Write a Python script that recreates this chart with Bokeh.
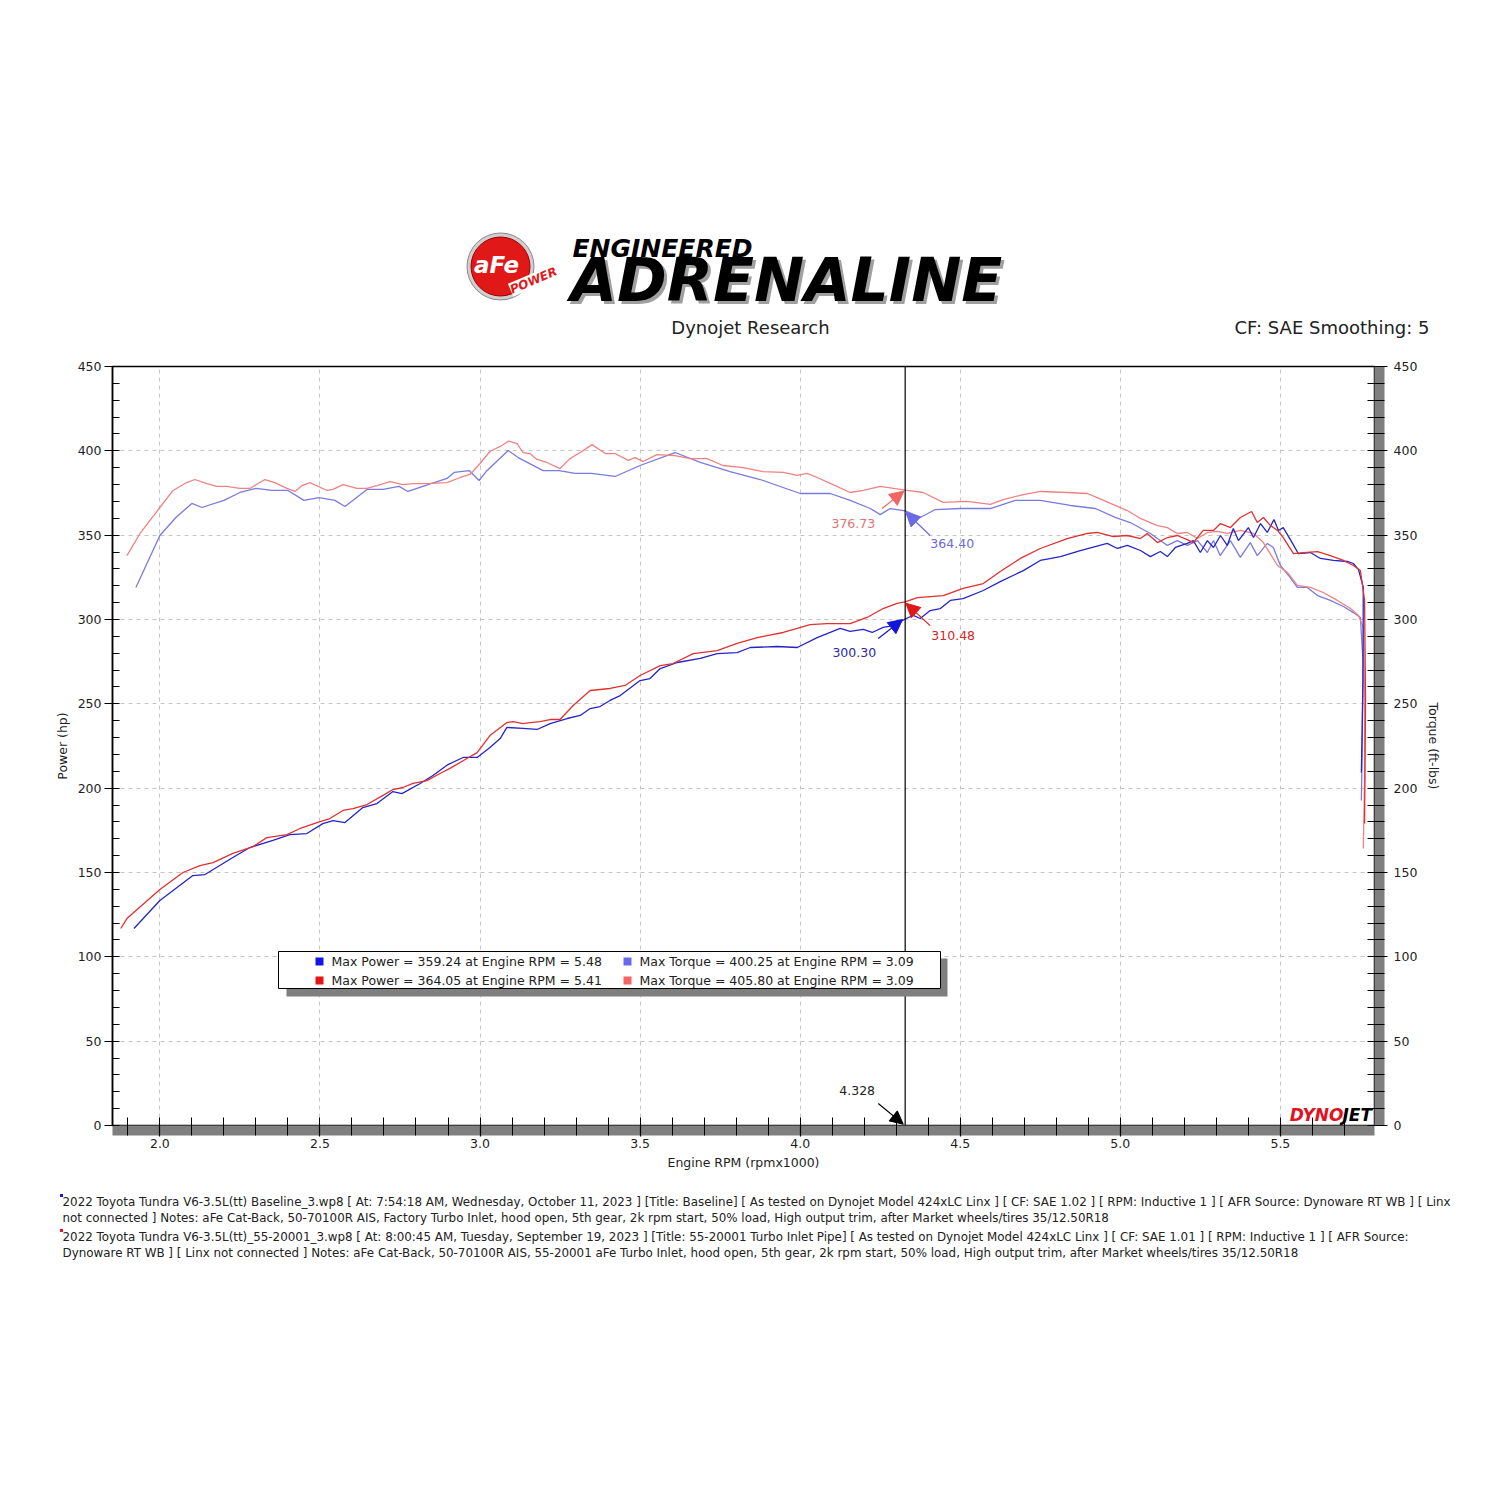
import numpy as np
from bokeh.plotting import figure
from bokeh.layouts import column
from bokeh.models import (Range1d, LinearAxis, SingleIntervalTicker, PrintfTickFormatter, FixedTicker,
                          Span, Label, Arrow, NormalHead, BoxAnnotation)
from bokeh.embed import file_html
from bokeh.resources import INLINE

FONT = "DejaVu Sans"

# ---------------- data ----------------
# Baseline run: torque (ft-lbs) vs engine rpm (x1000)
rpm_tq_base = [1.925, 2.000, 2.050, 2.100, 2.131, 2.200, 2.250, 2.300, 2.350, 2.400, 2.450, 2.497, 2.547,
               2.578, 2.647, 2.697, 2.747, 2.775, 2.847, 2.897, 2.919, 2.966, 2.997, 3.019, 3.088, 3.119,
               3.197, 3.247, 3.297, 3.347, 3.422, 3.500, 3.609, 3.688, 3.781, 3.875, 4.000, 4.094, 4.156,
               4.219, 4.250, 4.281, 4.328, 4.375, 4.422, 4.500, 4.594, 4.672, 4.750, 4.844, 4.922, 4.984,
               5.031, 5.094, 5.147, 5.178, 5.209, 5.241, 5.272, 5.291, 5.312, 5.344, 5.375, 5.406, 5.428,
               5.459, 5.478, 5.500, 5.531, 5.553, 5.584, 5.616, 5.656, 5.697, 5.728, 5.750, 5.758, 5.756,
               5.753]
tq_base = [319.0, 349.8, 360.5, 368.8, 366.4, 370.6, 375.3, 377.7, 376.5, 376.5, 370.6, 372.3, 370.6,
           367.0, 377.1, 377.1, 378.9, 375.9, 380.6, 383.6, 387.2, 388.3, 382.4, 387.7, 400.25, 396.0,
           388.3, 388.3, 386.6, 386.6, 384.8, 391.3, 399.0, 393.1, 387.7, 383.0, 374.7, 374.7, 370.6,
           365.8, 362.2, 365.8, 364.40, 360.5, 365.2, 365.8, 365.8, 370.6, 370.6, 367.6, 365.8, 360.5,
           357.5, 351.0, 343.9, 346.8, 343.9, 346.8, 339.7, 346.8, 337.9, 346.8, 336.8, 345.6, 337.9,
           345.1, 342.7, 332.0, 324.9, 319.0, 319.0, 314.2, 311.3, 307.7, 304.1, 301.2, 275.7, 228.3,
           192.7]

# Baseline run: power (hp)
rpm_hp_base = [1.919, 2.000, 2.103, 2.141, 2.228, 2.281, 2.353, 2.406, 2.459, 2.509, 2.541, 2.578, 2.634,
               2.678, 2.728, 2.756, 2.813, 2.853, 2.900, 2.947, 2.991, 3.031, 3.063, 3.084, 3.134, 3.178,
               3.219, 3.272, 3.313, 3.344, 3.375, 3.406, 3.438, 3.500, 3.531, 3.563, 3.616, 3.688, 3.741,
               3.803, 3.844, 3.928, 3.991, 4.053, 4.125, 4.156, 4.197, 4.225, 4.259, 4.291, 4.328, 4.353,
               4.375, 4.406, 4.438, 4.469, 4.509, 4.572, 4.625, 4.697, 4.750, 4.813, 4.875, 4.959, 4.991,
               5.022, 5.063, 5.094, 5.125, 5.147, 5.172, 5.209, 5.228, 5.250, 5.272, 5.291, 5.313, 5.334,
               5.353, 5.369, 5.400, 5.416, 5.438, 5.459, 5.480, 5.494, 5.509, 5.538, 5.556, 5.594, 5.625,
               5.666, 5.709, 5.728, 5.744, 5.759, 5.758, 5.753]
hp_base = [116.8, 133.4, 148.2, 148.8, 158.9, 164.8, 169.0, 172.5, 173.1, 179.0, 180.8, 179.6, 188.5,
           190.9, 198.0, 196.8, 202.8, 207.5, 214.0, 218.2, 218.2, 224.1, 229.4, 236.0, 235.4, 234.8,
           238.3, 241.3, 243.1, 247.2, 248.4, 252.0, 254.9, 263.8, 265.0, 270.9, 274.5, 276.9, 279.8,
           280.4, 283.4, 284.0, 283.4, 289.3, 294.7, 292.9, 294.1, 292.3, 295.3, 296.4, 300.30, 302.4,
           300.6, 305.3, 306.5, 311.3, 312.4, 317.2, 322.5, 329.0, 335.0, 337.3, 340.9, 345.1, 342.1,
           343.9, 340.9, 337.3, 340.3, 337.3, 342.7, 345.1, 346.8, 339.7, 346.8, 342.7, 349.8, 343.9,
           353.9, 346.8, 354.5, 348.6, 356.9, 351.6, 359.24, 352.8, 354.5, 345.1, 339.1, 339.7, 336.2,
           335.0, 334.4, 333.2, 329.6, 319.0, 263.8, 209.3]

# 55-20001 run: power (hp)
rpm_hp_mod = [1.878, 1.897, 2.000, 2.072, 2.125, 2.166, 2.228, 2.291, 2.334, 2.397, 2.438, 2.491, 2.531,
              2.572, 2.603, 2.647, 2.697, 2.728, 2.759, 2.791, 2.834, 2.875, 2.906, 2.959, 2.991, 3.031,
              3.084, 3.103, 3.134, 3.156, 3.188, 3.219, 3.250, 3.291, 3.344, 3.375, 3.406, 3.453, 3.500,
              3.563, 3.603, 3.666, 3.741, 3.803, 3.866, 3.947, 4.031, 4.084, 4.156, 4.209, 4.259, 4.303,
              4.328, 4.366, 4.447, 4.509, 4.572, 4.625, 4.688, 4.750, 4.834, 4.897, 4.928, 4.978, 5.022,
              5.063, 5.084, 5.116, 5.147, 5.178, 5.209, 5.228, 5.259, 5.291, 5.313, 5.344, 5.375, 5.410,
              5.428, 5.447, 5.469, 5.491, 5.509, 5.541, 5.572, 5.616, 5.656, 5.697, 5.728, 5.750, 5.763,
              5.766, 5.763]
hp_mod = [116.8, 122.7, 139.9, 150.0, 154.1, 155.9, 161.3, 165.4, 170.7, 172.5, 176.1, 179.6, 182.0,
          186.8, 187.9, 190.3, 195.7, 199.2, 200.4, 202.8, 204.5, 208.7, 211.7, 217.6, 221.1, 231.2,
          238.9, 239.5, 238.3, 238.9, 239.5, 240.7, 240.7, 249.0, 257.9, 258.5, 259.1, 260.9, 266.8,
          272.7, 273.9, 279.8, 281.6, 285.8, 289.3, 292.3, 297.0, 297.6, 297.6, 301.2, 306.5, 309.5,
          310.48, 313.0, 314.2, 318.4, 321.3, 328.5, 336.2, 342.1, 348.0, 351.0, 351.6, 349.2, 349.8,
          348.0, 351.0, 345.6, 348.6, 349.8, 347.4, 345.6, 352.8, 352.8, 356.9, 354.5, 360.5, 364.05,
          357.5, 360.5, 355.7, 352.8, 348.6, 339.1, 339.7, 340.3, 337.9, 335.0, 332.0, 329.0, 311.3,
          252.0, 179.1]

# 55-20001 run: torque (ft-lbs)
rpm_tq_mod = [1.897, 1.938, 2.000, 2.041, 2.084, 2.109, 2.147, 2.178, 2.209, 2.250, 2.281, 2.328, 2.359,
              2.397, 2.422, 2.444, 2.469, 2.522, 2.541, 2.572, 2.616, 2.647, 2.678, 2.719, 2.759, 2.791,
              2.834, 2.897, 2.938, 2.969, 3.000, 3.031, 3.063, 3.090, 3.116, 3.134, 3.156, 3.178, 3.209,
              3.250, 3.281, 3.313, 3.350, 3.391, 3.422, 3.463, 3.484, 3.509, 3.553, 3.609, 3.656, 3.709,
              3.759, 3.822, 3.884, 3.947, 3.991, 4.022, 4.053, 4.103, 4.156, 4.197, 4.250, 4.328, 4.384,
              4.447, 4.522, 4.594, 4.634, 4.697, 4.750, 4.834, 4.897, 4.928, 4.969, 5.022, 5.063, 5.116,
              5.147, 5.178, 5.209, 5.241, 5.272, 5.303, 5.334, 5.375, 5.416, 5.447, 5.491, 5.522, 5.553,
              5.594, 5.634, 5.678, 5.719, 5.744, 5.759, 5.763, 5.763, 5.759]
tq_mod = [337.9, 351.0, 366.4, 376.5, 381.2, 383.0, 380.6, 378.9, 378.9, 377.7, 377.7, 383.0, 381.2,
          377.7, 375.9, 379.4, 381.2, 376.5, 377.1, 380.0, 377.7, 377.7, 379.4, 381.8, 380.0, 380.6,
          380.6, 381.2, 384.2, 386.0, 392.5, 399.6, 402.6, 405.80, 404.3, 399.0, 398.4, 394.9, 393.1,
          389.5, 395.4, 399.0, 403.7, 398.4, 398.4, 394.3, 396.0, 393.7, 397.8, 397.2, 395.4, 395.4,
          391.3, 390.1, 387.7, 387.2, 385.4, 386.6, 384.2, 380.0, 375.3, 376.5, 378.9, 376.73, 375.3,
          369.4, 370.0, 368.2, 371.1, 374.1, 375.9, 375.3, 374.7, 372.3, 368.8, 364.6, 359.9, 355.7,
          354.5, 351.0, 351.6, 348.0, 351.6, 352.2, 351.0, 352.8, 351.0, 345.6, 332.0, 327.9, 320.2,
          319.0, 316.0, 311.3, 306.5, 302.4, 295.3, 252.0, 204.5, 164.2]

# summary values
max_power = [359.24, 364.05]
max_power_rpm = [5.48, 5.41]
max_torque = [400.25, 405.80]
max_torque_rpm = [3.09, 3.09]
cursor_rpm = 4.328
cursor_tq_mod = 376.73
cursor_tq_base = 364.40
cursor_hp_mod = 310.48
cursor_hp_base = 300.30

x_ticks_interval = 0.5
y_ticks_interval = 50

C_HP_BASE = "#2424c8"
C_TQ_BASE = "#7a7ae0"
C_HP_MOD = "#e03030"
C_TQ_MOD = "#f08282"

footnotes = [
    "2022 Toyota Tundra V6-3.5L(tt) Baseline_3.wp8 [ At: 7:54:18 AM, Wednesday, October 11, 2023 ] [Title: Baseline]  [ As tested on Dynojet Model 424xLC Linx ] [ CF: SAE 1.02 ] [ RPM: Inductive 1 ] [ AFR Source: Dynoware RT WB ] [ Linx",
    "not connected ] Notes: aFe Cat-Back, 50-70100R AIS, Factory Turbo Inlet, hood open, 5th gear, 2k rpm start, 50% load, High output trim, after Market wheels/tires 35/12.50R18",
    "2022 Toyota Tundra V6-3.5L(tt)_55-20001_3.wp8 [ At: 8:00:45 AM, Tuesday, September 19, 2023 ] [Title: 55-20001 Turbo Inlet Pipe]  [ As tested on Dynojet Model 424xLC Linx ] [ CF: SAE 1.01 ] [ RPM: Inductive 1 ] [ AFR Source:",
    "Dynoware RT WB ] [ Linx not connected ] Notes: aFe Cat-Back, 50-70100R AIS, 55-20001 aFe Turbo Inlet, hood open, 5th gear, 2k rpm start, 50% load, High output trim, after Market wheels/tires 35/12.50R18",
]

W = 1484
HEAD_H = 340
FOOT_TOP, FOOT_BOT = 1180, 1300
SHADOW = 10


def mk_label(fig, x, y, text, size, color="#222222", align="left", baseline="middle", style="normal",
             units="data", angle=0.0, level="annotation", **kw):
    lab = Label(x=x, y=y, text=text, x_units=units, y_units=units, text_font=FONT,
                text_font_size=f"{size}px", text_color=color, text_align=align,
                text_baseline=baseline, text_font_style=style, angle=angle, level=level, **kw)
    fig.add_layout(lab)


# ---------------- header (page pixel coordinates) ----------------
head = figure(width=W, height=HEAD_H, x_range=Range1d(0, W), y_range=Range1d(HEAD_H, 0),
              x_axis_type=None, y_axis_type=None, min_border=0, outline_line_color=None,
              toolbar_location=None, output_backend="svg", title=None,
              background_fill_color="white", border_fill_color="white")
head.frame_align = False
head.scatter(x=[500], y=[266], size=67, marker="circle", fill_color="#cfcfcf", line_color="#8a8a8a",
             line_width=1)
head.scatter(x=[500], y=[266], size=59, marker="circle", fill_color="#e01818", line_color="#a00000",
             line_width=1)
mk_label(head, 496, 264, "aFe", 23, color="white", align="center", style="bold italic")
mk_label(head, 533, 280, "POWER", 12, color="#e01818", align="center", style="bold italic", angle=0.4,
         background_fill_color="white", background_fill_alpha=1.0)
mk_label(head, 572, 248, "ENGINEERED", 25, color="black", style="bold italic")
mk_label(head, 573, 282, "ADRENALINE", 60, color="#a0a0a0", style="bold italic")
mk_label(head, 570, 279, "ADRENALINE", 60, color="black", style="bold italic")
mk_label(head, 750, 327, "Dynojet Research", 18, align="center")
mk_label(head, 1429, 327, "CF: SAE Smoothing: 5", 18, align="right")

# ---------------- main chart ----------------
FW, FH = 1262, 759  # frame size in px
MAIN_TOP = 366 - HEAD_H
p = figure(width=W, height=840, x_range=Range1d(1.852, 5.794), y_range=Range1d(0, 450),
           output_backend="svg", toolbar_location=None, title=None,
           min_border_left=112, min_border_right=W - 112 - FW, min_border_top=MAIN_TOP,
           min_border_bottom=840 - MAIN_TOP - FH,
           background_fill_color="white", border_fill_color="white")
p.frame_align = False
p.outline_line_color = "black"
p.outline_line_width = 1.5

xt = SingleIntervalTicker(interval=x_ticks_interval, num_minor_ticks=5)
yt = SingleIntervalTicker(interval=y_ticks_interval, num_minor_ticks=5)


def style_axis(ax):
    ax.axis_line_color = "black"
    ax.axis_line_width = 1.5
    ax.major_tick_line_color = "black"
    ax.major_tick_line_width = 1.2
    ax.minor_tick_line_color = "black"
    ax.minor_tick_line_width = 1
    ax.major_label_text_font = FONT
    ax.major_label_text_font_size = "12.5px"
    ax.major_label_text_color = "#1e1e1e"
    ax.axis_label_text_font = FONT
    ax.axis_label_text_font_size = "12.5px"
    ax.axis_label_text_font_style = "normal"
    ax.axis_label_text_color = "#1e1e1e"


# frame drop-shadow: a thin axis with one invisible tick; its filled background forms the grey band
def shadow_axis(tick):
    return LinearAxis(ticker=FixedTicker(ticks=[tick], minor_ticks=[]), axis_line_color=None,
                      major_tick_in=0, major_tick_out=SHADOW, minor_tick_in=0, minor_tick_out=0,
                      major_tick_line_color=None, major_label_overrides={tick: ""},
                      major_label_text_font_size="1px", major_label_standoff=0, axis_label_standoff=0,
                      background_fill_color="#7f7f7f", background_fill_alpha=1.0)


xa = p.below[0]
xa.ticker = xt
xa.formatter = PrintfTickFormatter(format="%.1f")
xa.axis_label = "Engine RPM (rpmx1000)"
style_axis(xa)
xa.axis_line_color = None
xa.major_tick_in = SHADOW
xa.major_tick_out = 1
xa.minor_tick_in = 8 + SHADOW
xa.minor_tick_out = 0
xa.major_label_standoff = 2
xa.axis_label_standoff = 4
p.below = [shadow_axis(3.0), xa]

ya = p.left[0]
ya.ticker = yt
ya.axis_label = "Power (hp)"
style_axis(ya)
ya.major_tick_in = 0
ya.major_tick_out = 8
ya.minor_tick_in = 7
ya.minor_tick_out = 0
ya.major_label_standoff = 3
ya.axis_label_standoff = 5

yr = LinearAxis(ticker=yt, axis_label="Torque (ft-lbs)")
style_axis(yr)
yr.axis_line_color = None
yr.major_tick_in = SHADOW
yr.major_tick_out = 3
yr.minor_tick_in = 7 + SHADOW
yr.minor_tick_out = 0
yr.major_label_standoff = 6
yr.axis_label_standoff = 6
p.right = [shadow_axis(200), yr]

p.xgrid[0].ticker = xt
p.ygrid[0].ticker = yt
for g in (p.xgrid[0], p.ygrid[0]):
    g.grid_line_color = "#c4c4c4"
    g.grid_line_dash = "4 4"
    g.grid_line_width = 1

# ---------------- curves ----------------
p.line(rpm_tq_base, tq_base, line_color=C_TQ_BASE, line_width=1.3)
p.line(rpm_tq_mod, tq_mod, line_color=C_TQ_MOD, line_width=1.3)
p.line(rpm_hp_base, hp_base, line_color=C_HP_BASE, line_width=1.3)
p.line(rpm_hp_mod, hp_mod, line_color=C_HP_MOD, line_width=1.3)

# cursor
p.add_layout(Span(location=cursor_rpm, dimension="height", line_color="black", line_width=1.2))


def arrow(x0, y0, x1, y1, color, size=12):
    p.add_layout(Arrow(end=NormalHead(size=size, fill_color=color, line_color=color, line_width=1),
                       x_start=x0, y_start=y0, x_end=x1, y_end=y1,
                       line_color=color, line_width=1.2))


mk_label(p, 4.178, 20.8, f"{cursor_rpm:.3f}", 12.5, align="center")
arrow(4.244, 13.0, cursor_rpm - 0.006, 0.8, "black", 13)

mk_label(p, 4.166, 357.0, f"{cursor_tq_mod:.2f}", 12.5, color="#e07474", align="center")
arrow(4.256, 365.8, cursor_rpm - 0.004, cursor_tq_mod - 0.6, "#f06464", 14)
mk_label(p, 4.475, 345.1, f"{cursor_tq_base:.2f}", 12.5, color="#6a6ad6", align="center")
arrow(4.406, 349.8, cursor_rpm + 0.002, cursor_tq_base - 0.8, "#6a6ae6", 14)
mk_label(p, 4.478, 290.5, f"{cursor_hp_mod:.2f}", 12.5, color="#d02828", align="center")
arrow(4.406, 296.4, cursor_rpm + 0.002, cursor_hp_mod - 0.8, "#e01818", 14)
mk_label(p, 4.169, 280.4, f"{cursor_hp_base:.2f}", 12.5, color="#2a2aa8", align="center")
arrow(4.244, 288.7, cursor_rpm - 0.008, cursor_hp_base - 0.3, "#1414d8", 14)


# ---------------- legend box ----------------
def sbox(left, right, bottom, top, color, level="overlay", line_color=None):
    b = BoxAnnotation(left=left, right=right, bottom=bottom, top=top,
                      left_units="screen", right_units="screen", bottom_units="screen", top_units="screen",
                      fill_color=color, fill_alpha=1.0, line_color=line_color, line_alpha=1.0,
                      line_width=1, level=level)
    p.add_layout(b)


sbox(174, 835, 129, 167, "#7f7f7f")
sbox(166, 828, 137, 174, "white", line_color="black")
leg_texts = [
    f"Max Power = {max_power[0]:.2f} at Engine RPM = {max_power_rpm[0]:.2f}",
    f"Max Power = {max_power[1]:.2f} at Engine RPM = {max_power_rpm[1]:.2f}",
    f"Max Torque = {max_torque[0]:.2f} at Engine RPM = {max_torque_rpm[0]:.2f}",
    f"Max Torque = {max_torque[1]:.2f} at Engine RPM = {max_torque_rpm[1]:.2f}",
]
leg_colors = ["#1414e6", "#e61414", "#6a6af0", "#fa6464"]
leg_pos = [(207, 164), (207, 145), (515, 164), (515, 145)]
for (cx, cy), t, c in zip(leg_pos, leg_texts, leg_colors):
    sbox(cx - 4, cx + 4, cy - 4, cy + 4, c)
    mk_label(p, cx + 12, cy, t, 12.5, units="screen", level="overlay")

# DYNOJET mark
mk_label(p, FW - 31, 1, "DYNO", 17, color="#e0141e", align="right", baseline="bottom",
         style="bold italic", units="screen")
mk_label(p, FW - 32, 1, "JET", 17, color="black", align="left", baseline="bottom",
         style="bold italic", units="screen")

# ---------------- footer (page pixel coordinates) ----------------
foot = figure(width=W, height=FOOT_BOT - FOOT_TOP, x_range=Range1d(0, W), y_range=Range1d(FOOT_BOT, FOOT_TOP),
              x_axis_type=None, y_axis_type=None, min_border=0, outline_line_color=None,
              toolbar_location=None, output_backend="svg", title=None,
              background_fill_color="white", border_fill_color="white")
foot.frame_align = False
foot.scatter(x=[61, 61], y=[1195, 1230], size=3, marker="square", fill_color=["#1414e6", "#e61414"],
             line_color=None)
for t, yy in zip(footnotes, [1201, 1217, 1236, 1252]):
    mk_label(foot, 62, yy, t, 11.9)

layout = column(head, p, foot, spacing=0)
open("out.html", "w").write(file_html(layout, INLINE))
